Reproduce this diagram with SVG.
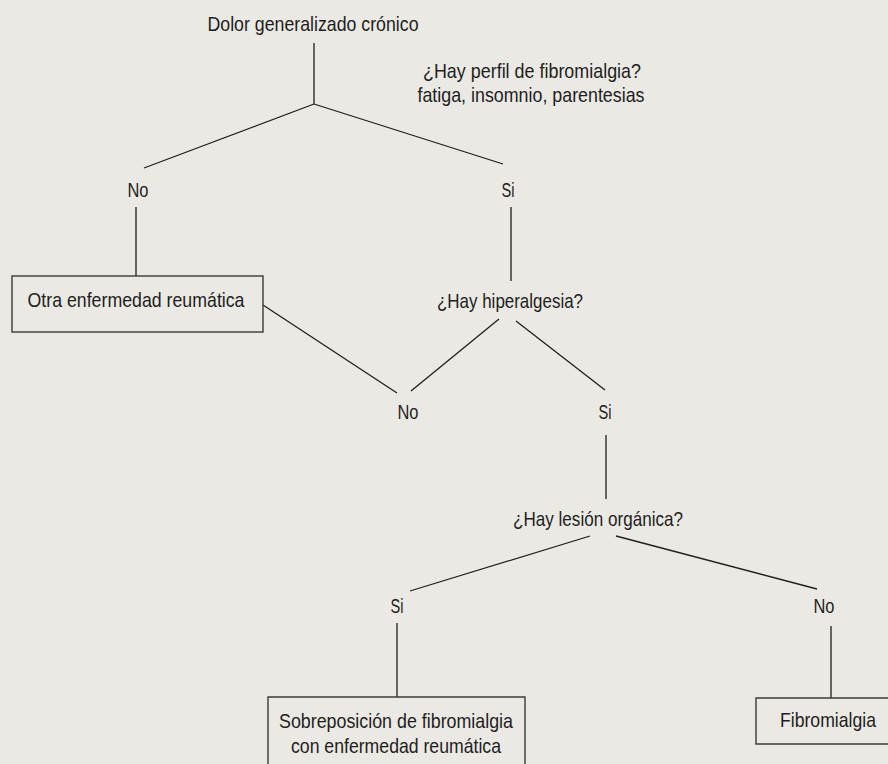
<svg xmlns="http://www.w3.org/2000/svg" width="888" height="764" viewBox="0 0 888 764">
<style>
text{font-family:"Liberation Sans Narrow","Liberation Sans",Arial,sans-serif;font-size:21px;fill:#1e1e1e;text-anchor:middle}
.c line{stroke:#1e1e1e;stroke-width:1.3}
.box{fill:none;stroke:#3a3a3a;stroke-width:1.4}
</style>
<rect width="888" height="764" fill="#eae9e3"/>
<g class="c" id="connectors">
<line x1="314" y1="43" x2="314" y2="104"/>
<line x1="314" y1="104" x2="144" y2="168"/>
<line x1="314" y1="104" x2="503" y2="164"/>
<line x1="136" y1="207" x2="136" y2="276"/>
<line x1="511" y1="207" x2="511" y2="281"/>
<line x1="263" y1="305" x2="397" y2="393"/>
<line x1="499" y1="319" x2="411" y2="391"/>
<line x1="516" y1="321" x2="605" y2="390"/>
<line x1="606" y1="435" x2="606" y2="499"/>
<line x1="590" y1="536" x2="410" y2="591"/>
<line x1="616" y1="536" x2="817" y2="589"/>
<line x1="397" y1="623" x2="397" y2="697"/>
<line x1="831" y1="626" x2="831" y2="698"/>
</g>
<g id="root"><text x="313" y="31" textLength="211" lengthAdjust="spacingAndGlyphs">Dolor generalizado crónico</text></g>
<g id="q1"><text x="532" y="78" textLength="218" lengthAdjust="spacingAndGlyphs">¿Hay perfil de fibromialgia?</text><text x="531" y="102" textLength="227" lengthAdjust="spacingAndGlyphs">fatiga, insomnio, parentesias</text></g>
<g id="no1"><text x="138" y="197" textLength="21" lengthAdjust="spacingAndGlyphs">No</text></g>
<g id="si1"><text x="508" y="197" textLength="13" lengthAdjust="spacingAndGlyphs">Si</text></g>
<g id="otra"><rect class="box" x="12" y="276" width="251" height="56"/><text x="136" y="307" textLength="217" lengthAdjust="spacingAndGlyphs">Otra enfermedad reumática</text></g>
<g id="q2"><text x="510" y="308" textLength="146" lengthAdjust="spacingAndGlyphs">¿Hay hiperalgesia?</text></g>
<g id="no2"><text x="408" y="419" textLength="21" lengthAdjust="spacingAndGlyphs">No</text></g>
<g id="si2"><text x="605" y="419" textLength="13" lengthAdjust="spacingAndGlyphs">Si</text></g>
<g id="q3"><text x="598" y="526" textLength="170" lengthAdjust="spacingAndGlyphs">¿Hay lesión orgánica?</text></g>
<g id="si3"><text x="397" y="613" textLength="13" lengthAdjust="spacingAndGlyphs">Si</text></g>
<g id="no3"><text x="824" y="613" textLength="21" lengthAdjust="spacingAndGlyphs">No</text></g>
<g id="sobre"><path class="box" d="M268,764 V697 H525 V764"/><text x="396" y="728" textLength="234" lengthAdjust="spacingAndGlyphs">Sobreposición de fibromialgia</text><text x="396" y="753" textLength="210" lengthAdjust="spacingAndGlyphs">con enfermedad reumática</text></g>
<g id="fibro"><path class="box" d="M888,698 H756 V744 H888"/><text x="828" y="727" textLength="96" lengthAdjust="spacingAndGlyphs">Fibromialgia</text></g>
</svg>
